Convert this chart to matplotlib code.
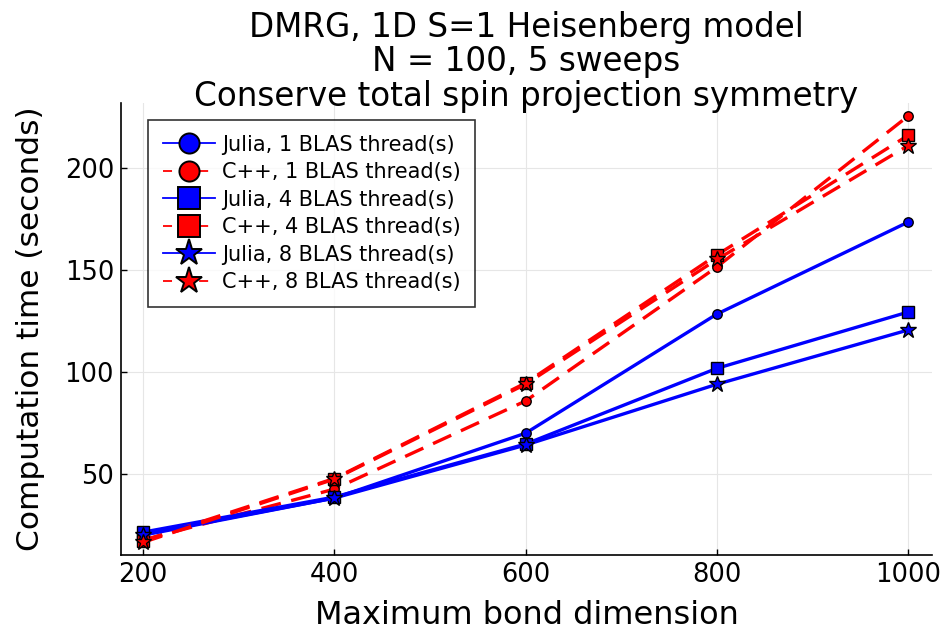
import matplotlib
matplotlib.use("Agg")
import matplotlib.pyplot as plt
from matplotlib.lines import Line2D

bond_dim = [200, 400, 600, 800, 1000]
julia_1 = [20.5, 38.2, 70.0, 128.4, 173.5]
cpp_1 = [17.6, 42.6, 85.8, 151.5, 225.5]
julia_4 = [21.5, 38.7, 64.7, 101.8, 129.4]
cpp_4 = [17.3, 47.8, 94.6, 157.4, 216.0]
julia_8 = [20.0, 38.2, 64.2, 94.0, 120.6]
cpp_8 = [16.5, 47.5, 94.0, 155.2, 211.0]

series = [
    ("Julia, 1 BLAS thread(s)", julia_1, "blue", "-", "o"),
    ("C++, 1 BLAS thread(s)", cpp_1, "red", "--", "o"),
    ("Julia, 4 BLAS thread(s)", julia_4, "blue", "-", "s"),
    ("C++, 4 BLAS thread(s)", cpp_4, "red", "--", "s"),
    ("Julia, 8 BLAS thread(s)", julia_8, "blue", "-", "*"),
    ("C++, 8 BLAS thread(s)", cpp_8, "red", "--", "*"),
]
msizes = {"o": 6.8, "s": 8.5, "*": 12}
leg_msizes = {"o": 14.5, "s": 16.5, "*": 20}

fig = plt.figure(figsize=(9.46, 6.30), dpi=100)
ax = fig.add_axes([121/946, 1-555/630, (932-121)/946, (555-103)/630])

handles = []
for label, vals, color, ls, mk in series:
    line, = ax.plot(bond_dim, vals, color=color, linestyle=ls, linewidth=2.4,
                    marker=mk, markersize=msizes[mk], markerfacecolor=color,
                    markeredgecolor="black", markeredgewidth=1.0, zorder=3)
    if ls == "--":
        line.set_dashes((6, 3.2))
    h = Line2D([], [], color=color, linestyle=ls, linewidth=1.3,
               marker=mk, markersize=leg_msizes[mk], markerfacecolor=color,
               markeredgecolor="black", markeredgewidth=1.4)
    if ls == "--":
        h.set_dashes((5, 5))
    handles.append((h, label))

ax.set_xlim(177, 1025)
ax.set_ylim(10.3, 231.9)
ax.set_xticks([200, 400, 600, 800, 1000])
ax.set_yticks([50, 100, 150, 200])
ax.grid(True, color="#e6e6e6", linewidth=0.8)
ax.set_axisbelow(True)
for s in ["top", "right"]:
    ax.spines[s].set_visible(False)
for s in ["left", "bottom"]:
    ax.spines[s].set_linewidth(1.2)
ax.tick_params(direction="in", length=4, labelsize=18.5, width=1, pad=5)

ax.set_xlabel("Maximum bond dimension", fontsize=23, labelpad=9)
ax.set_ylabel("Computation time (seconds)", fontsize=22.5, labelpad=14)
ax.set_title("DMRG, 1D S=1 Heisenberg model\nN = 100, 5 sweeps\nConserve total spin projection symmetry",
             fontsize=23.5, linespacing=1.07, pad=0, y=0.993)

leg = ax.legend([h for h, _ in handles], [l for _, l in handles],
                loc="upper left", bbox_to_anchor=(148/946, 1-120/630),
                bbox_transform=fig.transFigure, fontsize=15, frameon=True,
                fancybox=False, edgecolor="black", handlelength=2.5,
                labelspacing=0.36, borderpad=0.7, handletextpad=0.35,
                borderaxespad=0)
leg.get_frame().set_linewidth(1.2)

fig.savefig("out.png", dpi=100)
